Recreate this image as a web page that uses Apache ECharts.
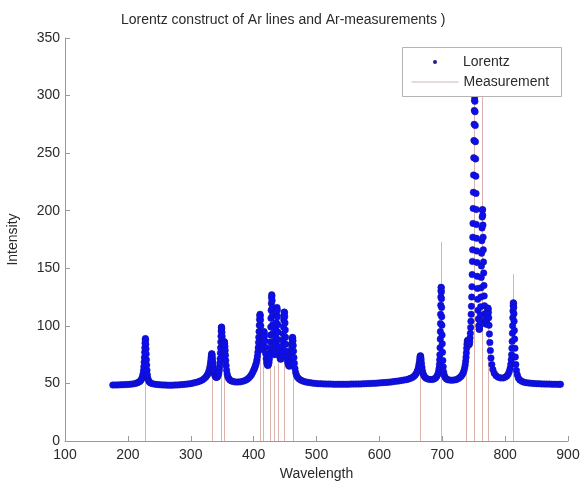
<!DOCTYPE html>
<html>
<head>
<meta charset="utf-8">
<script src="https://cdn.jsdelivr.net/npm/echarts@6/dist/echarts.min.js"></script>
<style>
  html, body { margin: 0; padding: 0; background: #fff; }
  #chart { width: 582px; height: 481px; }
</style>
</head>
<body>
<div id="chart"></div>
<script>
// Lorentz construct: [wavelength, intensity]
var lorentz200s = [
  [176,48.6],[180,48.7],[184,48.7],[188,48.8],[192,48.9],[196,49.0],[200,49.1],[204,49.3],[208,49.6],[212,50.0],
  [215,50.5],[217.5,51.2],[219.5,52.0],[221,53.0],[222.3,54.3],[223.3,56.0],[224.1,58.2],[224.8,61],[225.4,64.5],
  [225.9,68.5],[226.3,72.5],[226.7,77],[227.0,81],[227.3,85],[227.6,88],[227.9,89],[228.2,87.5],[228.5,84],
  [228.8,80],[229.1,75.5],[229.5,70.5],[229.9,66],[230.4,61.5],[231,57.5],[231.8,54.5],[232.8,52.5],[234.2,51.2],
  [236,50.4],[239,49.8],[243,49.3],[247,49.0],[251,48.8],[255,48.7],[259,48.6],[263,48.5],[267,48.5],[271,48.5],
  [275,48.6],[279,48.7],[283,48.8],[287,49.0],[291,49.2],[295,49.5],[299,49.8],[303,50.2],[307,50.7],[311,51.3],
  [315,52.1],[318.5,53],[321.5,54.2],[324,55.5],[326,57]
]
var lorentz300s = [
  [327.5,58.5],[328.7,60.3],[329.7,62.3],[330.6,64.8],[331.3,67.3],[331.9,70],[332.4,72.5],[332.9,74.5],[333.3,75.8],
  [333.7,75.5],[334.1,74],[334.6,71.5],[335.1,68.5],[335.7,65],[336.4,61.8],[337.2,59],[338.2,57],[339.3,55.8],
  [340.5,55.2],[341.7,55.3],[342.8,56],[343.8,57.3],[344.6,59],[345.3,61.3],[345.9,64],[346.4,67.5],[346.8,71.5],
  [347.2,76.5],[347.5,81],[347.8,86],[348.1,91],[348.4,95.5],[348.7,98.5],[349.0,99],[349.3,97.5],[349.6,94.5],
  [349.9,91],[350.3,87.5],[350.7,85],[351.2,83.5],[351.7,83.5],[352.2,84.5],[352.7,85.8],[353.2,86.3],[353.6,86],
  [354.0,84.5],[354.4,82],[354.8,78.5],[355.2,74.5],[355.7,70],[356.3,65.5],[357,61.5],[357.9,58.2],[359,55.8],
  [360.4,54.2],[362.2,53],[364.5,52.2],[367.5,51.6],[371,51.3],[375,51.2],[379,51.4],[383,51.9],[386.5,52.6],
  [389.5,53.5],[392,54.6],[394.5,56],[396.5,57.5],[398.2,59.2],[399.7,61]
]
var lorentz400s = [
  [401,62.5],[402.2,64.2],[403.3,66],[404.3,68],[405.2,70.5],[406,73.5],[406.7,77],[407.3,81],[407.8,85.5],[408.2,90],
  [408.6,95],[409,100.5],[409.4,105.5],[409.8,109],[410.2,110],[410.6,108.5],[411,105],[411.4,100],[411.8,94.5],
  [412.3,88.5],[412.8,83.5],[413.3,80.5],[413.8,79.5],[414.3,80.5],[414.8,83.5],[415.3,88],[415.8,92.5],[416.3,95],
  [416.8,94.5],[417.3,91.5],[417.8,87],[418.4,81.5],[419.1,76],[419.9,71.5],[420.8,68],[421.8,66],[422.8,65.5],
  [423.7,66.5],[424.5,68.5],[425.2,71.5],[425.8,75.5],[426.3,80.5],[426.7,86],[427.0,92],[427.3,99],[427.6,106.5],
  [427.9,113.5],[428.2,119.5],[428.5,124.5],[428.8,127],[429.1,126],[429.4,122],[429.7,116],[430,109],[430.4,101],
  [430.8,93.5],[431.3,86.5],[431.9,80.5],[432.6,76.5],[433.3,75],[433.9,76.5],[434.4,80],[434.8,84.5],[435.2,90],
  [435.6,96.5],[436,103],[436.4,109.5],[436.8,114.5],[437.2,116],[437.6,113.5],[438,108],[438.4,101],[438.8,94.5],
  [439.3,88],[439.9,82],[440.6,77],[441.4,73.5],[442.3,71.5],[443.2,71],[444.1,72],[444.9,74.5],[445.6,78],
  [446.2,82.5],[446.7,87.5],[447.1,93],[447.5,99],[447.9,105],[448.3,109.5],[448.7,112],[449.1,111.5],[449.5,108],
  [449.9,102.5],[450.3,96.5],[450.8,90],[451.3,84],[452,78],[452.8,73],[453.7,69.5],[454.7,67],[455.7,65.5],
  [456.7,65],[457.6,65.8],[458.4,67.5],[459.1,70],[459.7,73],[460.2,76.5],[460.6,80.5],[461,84.5],[461.4,88],
  [461.8,90],[462.2,89.5],[462.6,87],[463,83],[463.5,78],[464.1,72.5],[464.8,67.5],[465.7,63],[466.8,59.5],
  [468.2,57],[470,55.2],[472.5,53.8],[475.5,52.7],[479,51.9]
]
var lorentzMid = [
  [483,51.3],[487,50.9],[491,50.5],[495,50.2],[499,50.0],[503,49.8],[507,49.7],[511,49.6],[515,49.5],[519,49.4],
  [523,49.4],[527,49.3],[531,49.3],[535,49.3],[539,49.3],[543,49.3],[547,49.3],[551,49.3],[555,49.4],[559,49.4],
  [563,49.5],[567,49.5],[571,49.6],[575,49.7],[579,49.8],[583,49.9],[587,50.0],[591,50.1],[595,50.2],[599,50.4],
  [603,50.5],[607,50.7],[611,50.9],[615,51.1],[619,51.3],[623,51.6],[627,51.9],[631,52.2],[635,52.5],[639,52.9],
  [643,53.3],[646.5,53.8],[649.5,54.4],[652.5,55.2],[655,56.2],[657,57.3],[658.7,58.7]
]
var lorentz600s = [
  [660.1,60.3],[661.3,62.2],[662.3,64.5],[663.1,67],[663.8,69.5],[664.4,72],[664.9,73.7],[665.4,74],[665.9,72.8],
  [666.4,70.5],[667,67.3],[667.7,64],[668.5,61],[669.5,58.6],[670.7,56.8],[672.2,55.5],[674.2,54.5],[677,53.8],
  [680.5,53.4],[684,53.4],[687,53.9],[689.5,54.8],[691.5,56.2],[693,58],[694.1,60.3],[694.9,63],[695.5,66.5],
  [695.9,70.5],[696.2,75],[696.5,81],[696.8,88.5],[697.0,95],[697.2,102],[697.4,110],[697.6,118],[697.8,125],
  [698.0,130.5],[698.2,133.5],[698.4,133],[698.6,129.5],[698.8,123.5],[699,116],[699.2,108],[699.4,100.5],
  [699.7,92],[700,84.5],[700.4,77],[700.9,70],[701.5,64.5],[702.3,60],[703.3,57],[704.6,55.2],[706.3,54],[708.5,53.3]
]
var lorentz700s = [
  [711.5,52.9],[715,52.8],[718.5,52.9],[722,53.3],[725,54],[727.5,54.9],[729.7,56],[731.6,57.4],[733.2,59.1],
  [734.5,61],[735.6,63.3],[736.5,66],[737.2,69.2],[737.8,72.8],[738.3,76.5],[738.8,80.5],[739.3,84],[739.8,86.5],
  [740.3,87.5],[740.8,86.8],[741.3,85.3],[741.9,84],[742.5,83.5],[743.1,84.3],[743.7,86.5],[744.2,89.5],[744.7,93.5],
  [745.2,98.5],[745.6,104],[746,110],[746.4,117],[746.8,125],[747.2,134],[747.6,144.5],[748,156],[748.3,166],
  [748.6,177],[748.9,189],[749.2,202],[749.5,216],[749.8,231],[750.1,246],[750.4,261],[750.7,275],[751,287],
  [751.3,296],[751.6,299],[751.9,295],[752.2,286],[752.5,274],[752.8,260],[753.1,245],[753.4,230],[753.7,215],
  [754,201],[754.3,188],[754.6,176],[754.9,165],[755.2,155],[755.6,143],[756,132.5],[756.4,123],[756.9,113.5],
  [757.4,106],[758,100],[758.6,97],[759.2,97],[759.7,99.5],[760.2,104],[760.6,109.5],[761,116.5],[761.4,125],
  [761.7,133],[762,142],[762.3,152],[762.6,163],[762.9,174],[763.2,185],[763.5,194.5],[763.8,200.5],[764.1,201],
  [764.4,196],[764.7,187.5],[765,177],[765.3,166],[765.6,155.5],[765.9,146],[766.3,135],[766.7,126],[767.2,117.5],
  [767.8,110.5],[768.5,105],[769.2,102],[769.9,101.5],[770.5,103],[771,105.5],[771.5,109],[771.9,112],[772.3,114.5],
  [772.7,115.5],[773.1,114.5],[773.5,111.5],[773.9,107],[774.4,100.5],[775,93],[775.7,85.5],[776.5,78.5],[777.5,72],
  [778.8,66.5],[780.5,62],[782.7,58.8],[785.5,56.7],[789,55.4],[793,54.8],[797,54.8],[800.5,55.5],[803,56.6],
  [805,58.2],[806.6,60.3],[807.9,63],[808.9,66.5],[809.7,70.5],[810.3,75],[810.8,80.5],[811.2,86.5],[811.6,93.5],
  [811.9,100],[812.2,107],[812.5,113],[812.8,117.5],[813.1,120],[813.4,119.5],[813.7,116],[814,110.5],[814.3,104],
  [814.7,96],[815.1,88.5],[815.6,80.5],[816.2,73],[817,66.5],[818,61.3],[819.3,57.5],[821,54.8],[823.3,53],
  [826.5,51.8],[830,51.1],[834,50.6],[838,50.3],[842,50.1],[846,49.9],[850,49.8],[854,49.7],[858,49.6],[862,49.5],
  [866,49.4],[870,49.4],[874,49.3],[878,49.3],[882,49.2],[886,49.2],[888,49.2]
]

// measured Ar lines
var measWl = [227.7, 333.3, 348.1, 353.4, 409.5, 414.5, 425.5, 432.7, 438.8, 448.8, 462.5, 664.6, 698, 737.8, 751, 762.7, 773, 812.5]
var measInt = [75, 65, 85, 75, 95, 70, 65, 65, 80, 95, 80, 65, 173, 65, 335, 318, 100, 145]

var xTicks = [100, 200, 300, 400, 500, 600, 700, 800, 900]
var yTicks = [0, 50, 100, 150, 200, 250, 300, 350]

var lorentz = [].concat(lorentz200s, lorentz300s, lorentz400s, lorentzMid, lorentz600s, lorentz700s)
var measurement = measWl.map(function(w, i) { return [w, measInt[i]] })

var FONT = 'Liberation Sans, Arial, sans-serif'
var TXT = '#2a2a2a'
var AXIS = '#9a9a9a'
var MEAS = '#ddb3ad'

var chart = echarts.init(document.getElementById('chart'), null, { renderer: 'canvas' })
var option = {
  animation: false,
  backgroundColor: '#fff',
  title: {
    text: 'Lorentz construct of Ar lines and Ar-measurements )',
    left: 121,
    top: 13,
    padding: 0,
    textStyle: { fontFamily: FONT, fontSize: 14, fontWeight: 'normal', color: TXT }
  },
  grid: { left: 65, right: 14, top: 38, bottom: 40, containLabel: false, outerBoundsMode: 'none' },
  xAxis: {
    type: 'value',
    min: xTicks[0],
    max: xTicks[xTicks.length - 1],
    interval: 100,
    name: 'Wavelength',
    nameLocation: 'middle',
    nameGap: 22,
    nameTextStyle: { fontFamily: FONT, fontSize: 14, color: TXT },
    axisLine: { lineStyle: { color: AXIS, width: 1 } },
    axisTick: { inside: true, length: 5, lineStyle: { color: AXIS } },
    axisLabel: { margin: 7, fontFamily: FONT, fontSize: 14, color: TXT },
    splitLine: { show: false }
  },
  yAxis: {
    type: 'value',
    min: yTicks[0],
    max: yTicks[yTicks.length - 1],
    interval: 50,
    name: 'Intensity',
    nameLocation: 'middle',
    nameGap: 45,
    nameTextStyle: { fontFamily: FONT, fontSize: 14, color: TXT },
    axisLine: { show: true, lineStyle: { color: AXIS, width: 1 } },
    axisTick: { show: true, inside: true, length: 5, lineStyle: { color: AXIS } },
    axisLabel: { margin: 5, fontFamily: FONT, fontSize: 14, color: TXT },
    splitLine: { show: false }
  },
  legend: [{
    data: [{ name: 'Lorentz', icon: 'circle', itemStyle: { color: '#20208a', borderWidth: 0 } }],
    left: 433,
    top: 55,
    padding: 0,
    itemWidth: 4,
    itemHeight: 4,
    selectedMode: false,
    textStyle: { fontFamily: FONT, fontSize: 14, color: TXT, padding: [0, 0, 0, 21] }
  }, {
    data: [{ name: 'Measurement', icon: 'rect', itemStyle: { color: '#cbb9b6' } }],
    left: 411.5,
    top: 75,
    padding: 0,
    itemWidth: 47,
    itemHeight: 1,
    selectedMode: false,
    textStyle: { fontFamily: FONT, fontSize: 14, color: TXT }
  }],
  graphic: {
    elements: [{
      type: 'rect',
      z: 3,
      shape: { x: 402.5, y: 47.5, width: 159, height: 49 },
      style: { fill: '#fff', stroke: '#b4b4b4', lineWidth: 1 }
    }]
  },
  series: [{
    name: 'Measurement',
    type: 'custom',
    z: 1,
    data: measurement,
    encode: { x: 0, y: 1 },
    itemStyle: { color: MEAS },
    renderItem: function(params, api) {
      var p0 = api.coord([api.value(0), 0])
      var p1 = api.coord([api.value(0), api.value(1)])
      var x = Math.round(p0[0]) + 0.5
      return {
        type: 'line',
        shape: { x1: x, y1: p0[1], x2: x, y2: p1[1] },
        style: { stroke: MEAS, lineWidth: 1 }
      }
    }
  }, {
    name: 'Lorentz',
    type: 'scatter',
    z: 2,
    data: lorentz,
    symbol: 'circle',
    symbolSize: 6.5,
    itemStyle: { color: '#0d0df2', borderColor: '#141499', borderWidth: 0.5, opacity: 1 }
  }]
}
chart.setOption(option)
</script>
</body>
</html>
